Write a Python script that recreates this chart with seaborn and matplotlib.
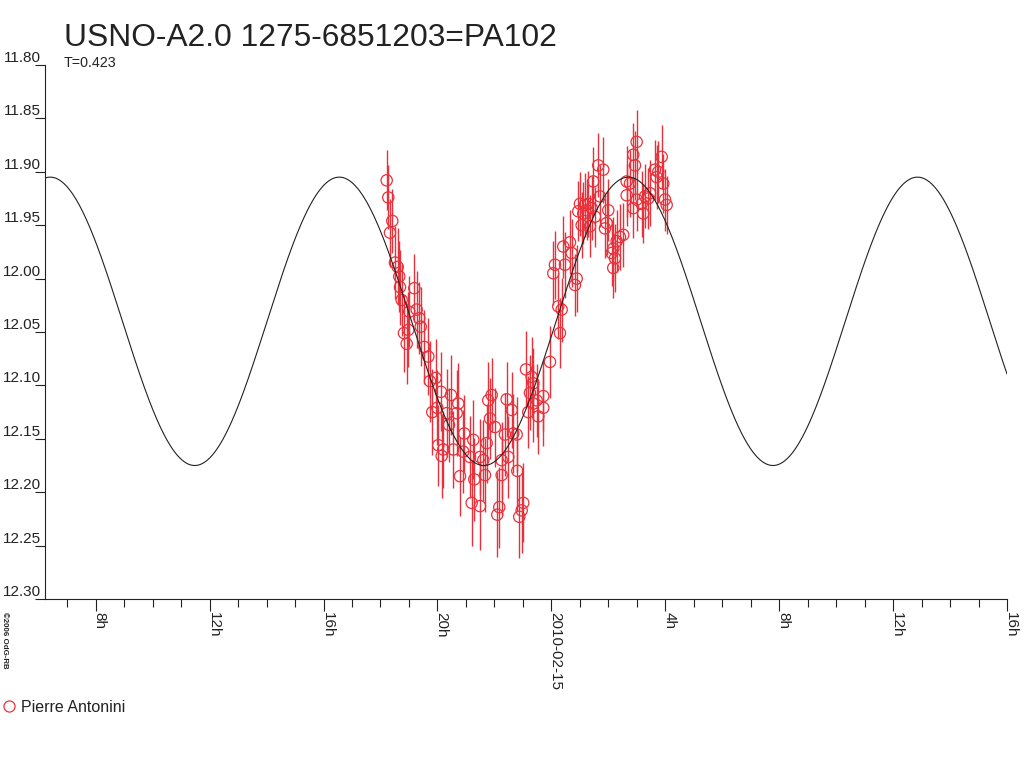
import numpy as np
import pandas as pd
import matplotlib
matplotlib.use("Agg")
import matplotlib.pyplot as plt
from matplotlib.lines import Line2D
import seaborn as sns

# ---------------- data ----------------
TITLE = "USNO-A2.0 1275-6851203=PA102"
PERIOD_LABEL = "T=0.423"
OBSERVER = "Pierre Antonini"
COPYRIGHT = "\u00a92006 OdG-RB"

# time in hours since 2010-02-14 00:00
obs_time = [
    18.218, 18.274, 18.334, 18.415, 18.509, 18.604, 18.660, 18.685, 18.744, 18.825,
    18.920, 18.977, 19.011, 19.187, 19.271, 19.363, 19.412, 19.538, 19.679, 19.738,
    19.819, 19.938, 19.995, 20.030, 20.124, 20.149, 20.205, 20.325, 20.405, 20.476,
    20.556, 20.676, 20.732, 20.792, 20.907, 20.943, 21.143, 21.202, 21.259, 21.294,
    21.494, 21.494, 21.610, 21.669, 21.729, 21.785, 21.845, 21.905, 22.020, 22.102,
    22.172, 22.255, 22.255, 22.372, 22.431, 22.488, 22.607, 22.663, 22.782, 22.804,
    22.874, 22.958, 23.014, 23.109, 23.190, 23.249, 23.309, 23.365, 23.365, 23.485,
    23.541, 23.717, 23.717, 23.952, 24.068, 24.127, 24.243, 24.303, 24.362, 24.418,
    24.478, 24.654, 24.713, 24.829, 24.889, 24.946, 25.005, 25.065, 25.121, 25.181,
    25.240, 25.297, 25.356, 25.416, 25.472, 25.532, 25.648, 25.707, 25.823, 25.883,
    25.942, 25.999, 26.118, 26.174, 26.174, 26.234, 26.294, 26.409, 26.525, 26.645,
    26.645, 26.761, 26.877, 26.877, 26.936, 26.996, 26.996, 27.171, 27.228, 27.287,
    27.403, 27.463, 27.638, 27.698, 27.754, 27.874, 27.930, 27.990, 28.049,
]
obs_mag = [
    11.908, 11.924, 11.957, 11.946, 11.985, 11.989, 11.998, 12.008, 12.020, 12.051,
    12.061, 12.048, 12.031, 12.009, 12.029, 12.037, 12.045, 12.064, 12.073, 12.096,
    12.125, 12.093, 12.121, 12.156, 12.106, 12.166, 12.160, 12.126, 12.137, 12.109,
    12.160, 12.126, 12.117, 12.185, 12.162, 12.145, 12.167, 12.210, 12.151, 12.188,
    12.213, 12.167, 12.170, 12.184, 12.154, 12.114, 12.131, 12.109, 12.139, 12.221,
    12.214, 12.170, 12.184, 12.146, 12.113, 12.167, 12.123, 12.145, 12.146, 12.180,
    12.223, 12.217, 12.210, 12.085, 12.125, 12.107, 12.092, 12.098, 12.117, 12.114,
    12.129, 12.110, 12.121, 12.078, 11.995, 11.987, 12.026, 12.051, 12.029, 11.970,
    11.987, 11.966, 11.976, 12.006, 12.000, 11.937, 11.930, 11.950, 11.939, 11.931,
    11.936, 11.930, 11.951, 11.934, 11.909, 11.942, 11.894, 11.923, 11.898, 11.953,
    11.948, 11.936, 11.976, 11.972, 11.990, 11.981, 11.965, 11.961, 11.959, 11.909,
    11.922, 11.911, 11.884, 11.934, 11.894, 11.872, 11.926, 11.930, 11.939, 11.923,
    11.925, 11.920, 11.898, 11.905, 11.900, 11.886, 11.911, 11.926, 11.931,
]
obs_err = [
    0.028, 0.030, 0.032, 0.030, 0.034, 0.036, 0.033, 0.035, 0.034, 0.036,
    0.038, 0.035, 0.033, 0.032, 0.036, 0.034, 0.037, 0.035, 0.036, 0.038,
    0.040, 0.036, 0.035, 0.038, 0.037, 0.039, 0.036, 0.041, 0.035, 0.037,
    0.036, 0.040, 0.038, 0.037, 0.039, 0.036, 0.038, 0.040, 0.037, 0.039,
    0.041, 0.036, 0.038, 0.035, 0.037, 0.036, 0.038, 0.035, 0.037, 0.040,
    0.038, 0.036, 0.037, 0.039, 0.035, 0.038, 0.036, 0.037, 0.035, 0.038,
    0.039, 0.040, 0.037, 0.036, 0.034, 0.035, 0.037, 0.033, 0.036, 0.034,
    0.035, 0.033, 0.036, 0.034, 0.030, 0.032, 0.031, 0.033, 0.030, 0.029,
    0.031, 0.030, 0.032, 0.029, 0.031, 0.028, 0.030, 0.031, 0.029, 0.030,
    0.028, 0.031, 0.029, 0.030, 0.032, 0.028, 0.030, 0.029, 0.031, 0.028,
    0.030, 0.029, 0.031, 0.030, 0.028, 0.032, 0.029, 0.031, 0.030, 0.033,
    0.029, 0.031, 0.030, 0.028, 0.032, 0.030, 0.029, 0.031, 0.028, 0.030,
    0.029, 0.031, 0.028, 0.030, 0.029, 0.030, 0.028, 0.029, 0.027,
]

# fitted sinusoidal model (period T = 0.423 d)
PERIOD_DAYS = 0.423
MODEL_MEAN = 12.040
MODEL_AMP = 0.135
MODEL_T_FAINT = 21.63   # hours since 2010-02-14 00:00, time of faintest light

X_MIN, X_MAX = 6.22, 40.0
Y_TOP, Y_BOTTOM = 11.80, 12.30
y_ticks = [11.80, 11.85, 11.90, 11.95, 12.00, 12.05, 12.10, 12.15, 12.20, 12.25, 12.30]
x_major = [8, 12, 16, 20, 24, 28, 32, 36, 40]
x_major_labels = ["8h", "12h", "16h", "20h", "2010-02-15", "4h", "8h", "12h", "16h"]
x_minor = [h for h in range(7, 40) if h % 4 != 0]

RED = "#e8313b"
INK = "#222222"

# ---------------- plot ----------------
sns.set_style("white")
plt.rcParams["font.family"] = ["Liberation Sans", "DejaVu Sans"]

W, H = 1024, 768
fig = plt.figure(figsize=(W / 100, H / 100), dpi=100)
ax = fig.add_axes([45 / W, 1 - 599 / H, 962 / W, 534 / H])

df = pd.DataFrame({"time": obs_time, "mag": obs_mag, "err": obs_err})

ax.errorbar(df["time"], df["mag"], yerr=df["err"], fmt="none",
            ecolor=RED, elinewidth=1.0, capsize=0, zorder=2)
sns.scatterplot(data=df, x="time", y="mag", ax=ax, marker="o", s=66,
                facecolors="none", edgecolor=RED, linewidth=0.9, zorder=3,
                legend=False)

t_model = np.linspace(X_MIN, X_MAX, 1200)
period_h = PERIOD_DAYS * 24.0
m_model = MODEL_MEAN + MODEL_AMP * np.cos(2 * np.pi * (t_model - MODEL_T_FAINT) / period_h)
sns.lineplot(x=t_model, y=m_model, ax=ax, color=INK, linewidth=0.8,
             sort=False, zorder=4)

ax.set_xlim(X_MIN, X_MAX)
ax.set_ylim(Y_BOTTOM, Y_TOP)
ax.set_xlabel("")
ax.set_ylabel("")
ax.set_facecolor("white")
ax.grid(False)

for side in ("top", "right"):
    ax.spines[side].set_visible(False)
for side in ("left", "bottom"):
    ax.spines[side].set_color(INK)
    ax.spines[side].set_linewidth(0.8)

ax.set_yticks(y_ticks)
ax.set_yticklabels([f"{v:.2f}" for v in y_ticks])
ax.tick_params(axis="y", which="major", left=True, direction="out", length=7.2,
               width=0.8, color=INK, labelcolor=INK, labelsize=11, pad=-4.0)
for lab in ax.get_yticklabels():
    lab.set_va("bottom")

ax.set_xticks(x_major)
ax.set_xticklabels(x_major_labels)
ax.set_xticks(x_minor, minor=True)
ax.tick_params(axis="x", which="major", bottom=True, direction="out", length=8.6,
               width=0.8, color=INK, labelcolor=INK, labelsize=11, pad=1.0)
ax.tick_params(axis="x", which="minor", bottom=True, direction="out", length=5.8,
               width=0.8, color=INK)
for lab in ax.get_xticklabels():
    lab.set_rotation(-90)
    lab.set_rotation_mode("anchor")
    lab.set_ha("left")
    lab.set_va("baseline")

fig.text(64 / W, 1 - 46 / H, TITLE, fontsize=22.9, color=INK,
         ha="left", va="baseline")
fig.text(64 / W, 1 - 67 / H, PERIOD_LABEL, fontsize=10.3, color=INK,
         ha="left", va="baseline")
fig.text(3 / W, 1 - 612 / H, COPYRIGHT, fontsize=5.7, fontweight="bold",
         color=INK, rotation=-90, rotation_mode="anchor",
         ha="left", va="baseline")

handle = Line2D([], [], linestyle="none", marker="o", markersize=8.0,
                markerfacecolor="none", markeredgecolor=RED, markeredgewidth=0.9)
fig.legend([handle], [OBSERVER], loc="center left",
           bbox_to_anchor=(3 / W, 1 - 707 / H), frameon=False,
           handlelength=0.75, handletextpad=0.4, borderpad=0, borderaxespad=0,
           fontsize=11.5, labelcolor=INK)

fig.savefig("out.png", dpi=100, facecolor="white")
